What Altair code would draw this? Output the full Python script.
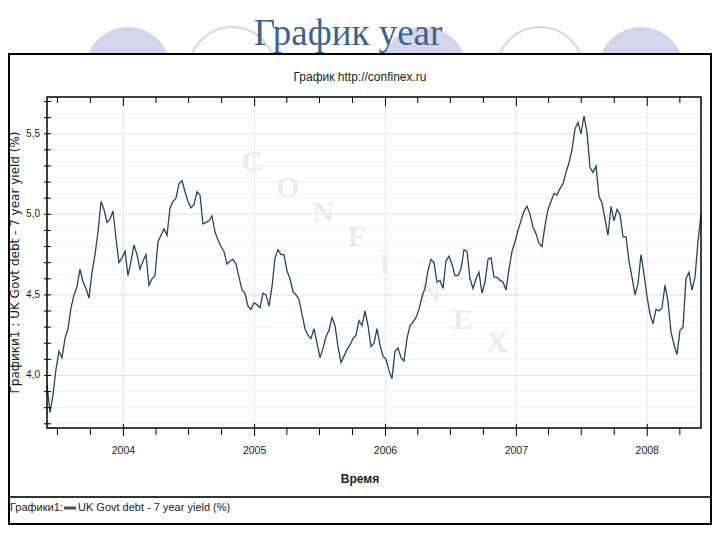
import altair as alt
import pandas as pd

# --- UK Govt debt 7 year yield (%), Jun 2003 .. May 2008 ---
seg_2003 = [3.94, 3.77, 3.88, 4.04, 4.15, 4.11, 4.23, 4.29, 4.42, 4.50, 4.55, 4.66, 4.58, 4.54, 4.48,
            4.64, 4.75, 4.89, 5.08, 5.03, 4.95, 4.97, 5.02, 4.85, 4.70, 4.73, 4.77, 4.62, 4.71, 4.81,
            4.75, 4.66, 4.71, 4.75, 4.56, 4.60, 4.62, 4.83, 4.87, 4.91, 4.87, 5.04, 5.08, 5.10, 5.19]
seg_2004 = [5.21, 5.14, 5.08, 5.04, 5.06, 5.14, 5.12, 4.94, 4.95, 4.96, 4.99, 4.89, 4.84, 4.80, 4.77,
            4.69, 4.71, 4.72, 4.69, 4.61, 4.53, 4.51, 4.43, 4.41, 4.45, 4.44, 4.42, 4.51, 4.50, 4.43,
            4.55, 4.73, 4.78, 4.75, 4.75, 4.65, 4.60, 4.52, 4.50, 4.47, 4.38, 4.29, 4.25]
seg_2005 = [4.23, 4.29, 4.20, 4.11, 4.17, 4.24, 4.28, 4.36, 4.31, 4.18, 4.08, 4.12, 4.16, 4.19, 4.23,
            4.25, 4.34, 4.31, 4.40, 4.31, 4.18, 4.20, 4.29, 4.19, 4.12, 4.10, 4.03, 3.98, 4.15, 4.17,
            4.11, 4.09, 4.23, 4.31, 4.33, 4.36, 4.41, 4.49, 4.54, 4.65, 4.72, 4.70, 4.58]
seg_2006 = [4.59, 4.54, 4.71, 4.74, 4.69, 4.62, 4.62, 4.66, 4.78, 4.77, 4.60, 4.54, 4.60, 4.64, 4.51,
            4.58, 4.72, 4.73, 4.61, 4.61, 4.59, 4.58, 4.53, 4.66, 4.77, 4.83, 4.90, 4.96, 5.02, 5.05,
            5.00, 4.92, 4.88, 4.82, 4.80, 4.93, 5.03, 5.08, 5.13, 5.12, 5.16, 5.19, 5.26]
seg_2007 = [5.32, 5.40, 5.53, 5.57, 5.50, 5.61, 5.51, 5.29, 5.26, 5.30, 5.11, 5.07, 4.97, 4.87, 5.05,
            4.96, 5.03, 5.00, 4.86, 4.86, 4.71, 4.61, 4.50, 4.57, 4.75, 4.63, 4.49, 4.38, 4.32, 4.41,
            4.40, 4.42, 4.56, 4.46, 4.27, 4.19, 4.13, 4.28, 4.30, 4.60, 4.64, 4.53, 4.61, 4.83, 5.00]

year_labels = ["2004-01-01", "2005-01-01", "2006-01-01", "2007-01-01", "2008-01-01"]
quarter_marks = ["2003-07-01", "2003-10-01", "2004-04-01", "2004-07-01", "2004-10-01",
                 "2005-04-01", "2005-07-01", "2005-10-01", "2006-04-01", "2006-07-01",
                 "2006-10-01", "2007-04-01", "2007-07-01", "2007-10-01", "2008-04-01"]
y_minor = [3.7, 3.8, 3.9, 4.0, 4.1, 4.2, 4.3, 4.4, 4.5, 4.6, 4.7, 4.8, 4.9, 5.0,
           5.1, 5.2, 5.3, 5.4, 5.5, 5.6, 5.7]
y_major = [4.0, 4.5, 5.0, 5.5]
y_major_labels = ["4,0", "4,5", "5,0", "5,5"]

values = seg_2003 + seg_2004 + seg_2005 + seg_2006 + seg_2007
df = pd.DataFrame({"date": pd.date_range("2003-06-02", "2008-05-30", periods=len(values)),
                   "yield": values})
df_years = pd.DataFrame({"d": pd.to_datetime(year_labels)})
df_quarters = pd.DataFrame({"d": pd.to_datetime(quarter_marks)})
df_minor = pd.DataFrame({"v": y_minor})
df_major = pd.DataFrame({"v": y_major, "lab": y_major_labels})
dummy = pd.DataFrame({"k": [0]})

W, H = 654, 331
SANS = "Liberation Sans, Arial, sans-serif"
TXT = "#222222"

xs = alt.Scale(domain=[alt.DateTime(year=2003, month=6, date=2),
                       alt.DateTime(year=2008, month=5, date=30)])
ys = alt.Scale(domain=[3.674, 5.728], nice=False, zero=False)

layers = []

# slide decoration circles
for cx, filled in [(81, True), (185, False), (377, True), (493, False), (594, True)]:
    if filled:
        m = alt.Chart(dummy).mark_point(shape="circle", size=7400, fill="#d3d5ea",
                                        stroke="#d3d5ea", strokeWidth=0, opacity=1)
    else:
        m = alt.Chart(dummy).mark_point(shape="circle", size=7400, fill="white",
                                        stroke="#d6d6d6", strokeWidth=2, opacity=1)
    layers.append(m.encode(x=alt.value(cx), y=alt.value(-27)))

# slide title
layers.append(alt.Chart(dummy).mark_text(text="График year", font="Liberation Serif, Times New Roman, serif",
                                         fontSize=37, color="#3a6391", align="center",
                                         baseline="alphabetic")
              .encode(x=alt.value(301), y=alt.value(-52)))

# outer white box
layers.append(alt.Chart(dummy).mark_rect(fill="white", stroke="black", strokeWidth=2)
              .encode(x=alt.value(-38), x2=alt.value(664), y=alt.value(-43), y2=alt.value(427)))
layers.append(alt.Chart(dummy).mark_rule(color="#333333", strokeWidth=2)
              .encode(x=alt.value(-38), x2=alt.value(664), y=alt.value(400)))

# gridlines
layers.append(alt.Chart(df_minor).mark_rule(color="#f1f1f1", strokeWidth=1)
              .encode(y=alt.Y("v:Q", scale=ys, axis=None)))
layers.append(alt.Chart(df_major).mark_rule(color="#e2e2e2", strokeWidth=1)
              .encode(y=alt.Y("v:Q", scale=ys, axis=None)))
layers.append(alt.Chart(df_years).mark_rule(color="#e6e6e6", strokeWidth=1)
              .encode(x=alt.X("d:T", scale=xs, axis=None)))

# watermark
for ch, wx, wy in [("C", 205, 65), ("O", 241, 91), ("N", 276, 116), ("F", 310, 140),
                   ("I", 338, 168), ("N", 383, 196), ("E", 416, 223), ("X", 450, 246)]:
    layers.append(alt.Chart(dummy).mark_text(text=ch, font="Liberation Serif, serif", fontWeight="bold",
                                             fontSize=30, color="#ececec", align="center",
                                             baseline="middle")
                  .encode(x=alt.value(wx), y=alt.value(wy)))

# series
layers.append(alt.Chart(df).mark_line(color="#2c4450", strokeWidth=1.3).encode(
    x=alt.X("date:T", scale=xs, axis=None),
    y=alt.Y("yield:Q", scale=ys, axis=None),
))

# plot frame
layers.append(alt.Chart(dummy).mark_rect(fillOpacity=0, stroke="black", strokeWidth=1.5)
              .encode(x=alt.value(0), x2=alt.value(W), y=alt.value(0), y2=alt.value(H)))

# ticks
layers.append(alt.Chart(df_quarters).mark_rule(color="black")
              .encode(x=alt.X("d:T", scale=xs, axis=None), y=alt.value(H), y2=alt.value(H + 7)))
layers.append(alt.Chart(df_years).mark_rule(color="black")
              .encode(x=alt.X("d:T", scale=xs, axis=None), y=alt.value(H - 4), y2=alt.value(H + 8)))
layers.append(alt.Chart(df_quarters).mark_rule(color="black")
              .encode(x=alt.X("d:T", scale=xs, axis=None), y=alt.value(0), y2=alt.value(6)))
layers.append(alt.Chart(df_years).mark_rule(color="black")
              .encode(x=alt.X("d:T", scale=xs, axis=None), y=alt.value(0), y2=alt.value(9)))
layers.append(alt.Chart(df_minor).mark_rule(color="black")
              .encode(y=alt.Y("v:Q", scale=ys, axis=None), x=alt.value(-3), x2=alt.value(4)))

# axis labels
layers.append(alt.Chart(df_years).mark_text(font=SANS, fontSize=10.5, color=TXT, align="center",
                                            baseline="middle")
              .encode(x=alt.X("d:T", scale=xs, axis=None), y=alt.value(H + 23),
                      text=alt.Text("d:T", format="%Y")))
layers.append(alt.Chart(df_major).mark_text(font=SANS, fontSize=10, color=TXT, align="right",
                                            baseline="middle")
              .encode(y=alt.Y("v:Q", scale=ys, axis=None), x=alt.value(-7), text="lab:N"))
layers.append(alt.Chart(dummy).mark_text(text="Графики1 : UK Govt debt - 7 year yield  (%)",
                                         font="DejaVu Sans", fontSize=12, color=TXT, angle=270,
                                         align="center", baseline="middle")
              .encode(x=alt.value(-32), y=alt.value(H / 2)))

# texts
layers.append(alt.Chart(dummy).mark_text(text="График    http://confinex.ru", font=SANS, fontSize=12,
                                         color=TXT, align="center", baseline="middle")
              .encode(x=alt.value(313), y=alt.value(-20)))
layers.append(alt.Chart(dummy).mark_text(text="Время", font=SANS, fontSize=12, fontWeight="bold",
                                         color=TXT, align="center", baseline="middle")
              .encode(x=alt.value(313), y=alt.value(382)))
layers.append(alt.Chart(dummy).mark_text(text="Графики1:", font=SANS, fontSize=11,
                                         color=TXT, align="left", baseline="middle")
              .encode(x=alt.value(-37), y=alt.value(411)))
layers.append(alt.Chart(dummy).mark_rule(color="#3d5662", strokeWidth=3)
              .encode(x=alt.value(17), x2=alt.value(29), y=alt.value(411)))
layers.append(alt.Chart(dummy).mark_text(text="UK Govt debt - 7 year yield  (%)", font=SANS, fontSize=11,
                                         color=TXT, align="left", baseline="middle")
              .encode(x=alt.value(31), y=alt.value(411)))

chart = alt.layer(*layers).properties(
    width=W, height=H,
    autosize=alt.AutoSizeParams(type="none"),
    padding={"left": 39, "top": 89, "right": 11, "bottom": 112},
    background="white",
).configure_view(strokeWidth=0)

chart.save("out.html", embed_options={"renderer": "svg", "actions": False})
